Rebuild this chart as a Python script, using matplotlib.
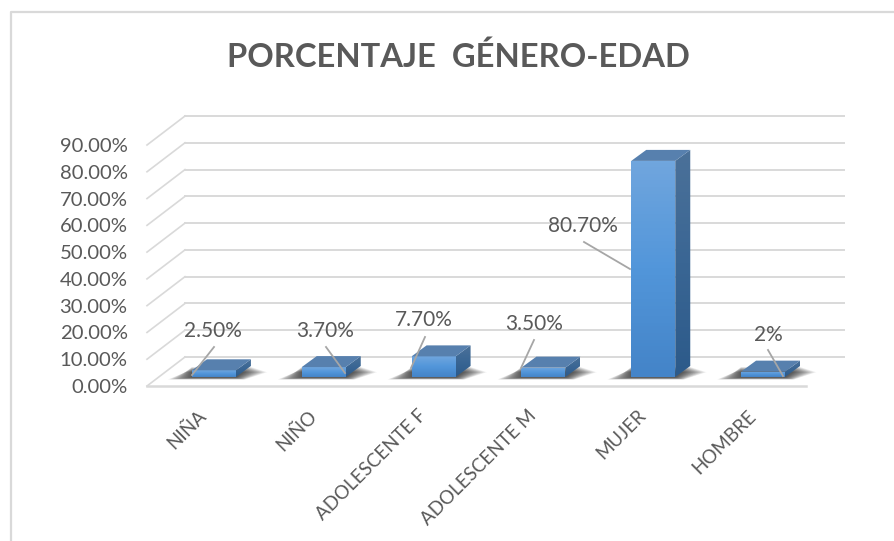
import numpy as np
import matplotlib
matplotlib.use('Agg')
import matplotlib.pyplot as plt
from matplotlib.colors import LinearSegmentedColormap
from matplotlib.patches import Polygon
from matplotlib.transforms import ScaledTranslation

categories = ['NIÑA', 'NIÑO', 'ADOLESCENTE F', 'ADOLESCENTE M', 'MUJER', 'HOMBRE']
values = [2.5, 3.7, 7.7, 3.5, 80.7, 2.0]
value_labels = ['2.50%', '3.70%', '7.70%', '3.50%', '80.70%', '2%']
y_ticks = [0, 10, 20, 30, 40, 50, 60, 70, 80, 90]
y_tick_labels = ['%.2f%%' % v for v in y_ticks]

# pixel layout of the picture
W, H = 894, 541
LEFT, RIGHT = 147, 806
Y0, Y90 = 386, 145
PX_X = (RIGHT - LEFT) / 6
PX_Y = (Y0 - Y90) / 90
GREY = '#595959'
LINE = '#d9d9d9'

# label centre and leader ends, in pixels of the picture
label_pos = [(213, 331), (325, 331), (424, 320), (534, 324), (583, 226), (768, 335)]
leaders = [((214, 347), (192, 375)), ((326, 347), (345, 373)), ((425, 337), (411, 368)),
           ((534, 340), (521, 368)), ((584, 242), (630, 269)), ((768, 350), (783, 376))]

plt.rcParams['font.family'] = ['Lato', 'DejaVu Sans']

fig = plt.figure(figsize=(W / 100, H / 100), dpi=100)
ax = fig.add_axes([LEFT / W, 1 - Y0 / H, (RIGHT - LEFT) / W, (Y0 - Y90) / H])
ax.set_xlim(-0.5, 5.5)
ax.set_ylim(0, 90)
ax.patch.set_alpha(0)
for s in ax.spines.values():
    s.set_visible(False)


def px(x, y):
    return (x - LEFT) / PX_X - 0.5, (Y0 - y) / PX_Y


def dx(p):
    return p / PX_X


def dy(p):
    return p / PX_Y


# frame of the chart
fig.add_artist(plt.Line2D([10.5 / W, 10.5 / W, 1], [0, 1 - 11.5 / H, 1 - 11.5 / H],
                          color=LINE, lw=1.6))

# back wall and side wall
back_x, back_y = dx(38), dy(29)
for v in y_ticks:
    ax.plot([-0.5, -0.5 + back_x], [v, v + back_y], color=LINE, lw=1.2, clip_on=False, zorder=1)
    ax.plot([-0.5 + back_x, 5.5 + back_x], [v + back_y, v + back_y], color=LINE, lw=1.4,
            clip_on=False, zorder=1)
ax.plot([-0.5, 5.5], [0, 0], color=LINE, lw=1.8, clip_on=False, zorder=1)

front_cmap = LinearSegmentedColormap.from_list('front', ['#70a6de', '#5296da', '#4484c8'])
side_cmap = LinearSegmentedColormap.from_list('side', ['#4b7199', '#3a6694', '#2c5a8a'])
grad = np.linspace(0, 1, 64).reshape(-1, 1)

bar_w = dx(44)
off_x, off_y = dx(12), dy(9)
dep_x, dep_y = dx(15), dy(11)

for i, v in enumerate(values):
    x0 = i + off_x - bar_w / 2
    x1 = x0 + bar_w
    b = off_y
    t = off_y + v

    # soft shadow on the floor, stacked layers from wide to narrow
    for k in range(16):
        g = 30 - 1.9 * k
        low = b - dy(2.5 - 0.12 * k)
        high = b + dep_y * (0.45 + 0.03 * k)
        ax.add_patch(Polygon([(x0 - dx(g * 0.8), low), (x1 + dx(g * 0.3), low),
                              (x1 + dep_x + dx(g * 0.55), high), (x0 - dx(g * 0.2), high)],
                             closed=True, fc='#202020', ec='none', alpha=0.075, zorder=2, clip_on=False))

    front = Polygon([(x0, b), (x1, b), (x1, t), (x0, t)], closed=True, fc='none', ec='none', zorder=3)
    ax.add_patch(front)
    im = ax.imshow(grad, cmap=front_cmap, extent=(x0, x1, b, t), aspect='auto', origin='upper', zorder=3)
    im.set_clip_path(front)

    side = Polygon([(x1, b), (x1 + dep_x, b + dep_y), (x1 + dep_x, t + dep_y), (x1, t)],
                   closed=True, fc='none', ec='none', zorder=3)
    ax.add_patch(side)
    im = ax.imshow(grad, cmap=side_cmap, extent=(x1, x1 + dep_x, b, t + dep_y), aspect='auto', origin='upper', zorder=3)
    im.set_clip_path(side)

    ax.add_patch(Polygon([(x0, t), (x1, t), (x1 + dep_x, t + dep_y), (x0 + dep_x, t + dep_y)],
                         closed=True, fc='#5780ae', ec='none', zorder=3))

ax.set_xlim(-0.5, 5.5)
ax.set_ylim(0, 90)

# data labels with their leader lines
for i, lab in enumerate(value_labels):
    lx, ly = px(*label_pos[i])
    ax.text(lx, ly, lab, ha='center', va='center', fontsize=15, color=GREY, zorder=5, clip_on=False)
    (xa, ya), (xb, yb) = leaders[i]
    pa, pb = px(xa, ya), px(xb, yb)
    ax.plot([pa[0], pb[0]], [pa[1], pb[1]], color='#a6a6a6', lw=1.3, zorder=4, clip_on=False)

ax.set_yticks(y_ticks)
ax.set_yticklabels(y_tick_labels, fontsize=14.6, color=GREY)
ax.set_xticks(range(len(categories)))
ax.set_xticklabels(categories, fontsize=13.5, color=GREY, rotation=45, ha='right', rotation_mode='anchor')
ax.tick_params(axis='both', length=0)
ax.tick_params(axis='y', pad=14)
ax.tick_params(axis='x', pad=15)
shift = ScaledTranslation(-4 / 100, 0, fig.dpi_scale_trans)
for lab in ax.get_xticklabels():
    lab.set_transform(lab.get_transform() + shift)

fig.text(458 / W, 1 - 57 / H, 'PORCENTAJE  GÉNERO-EDAD', ha='center', va='center',
         fontsize=23.6, fontweight='bold', color=GREY)

fig.savefig('out.png', dpi=100)
